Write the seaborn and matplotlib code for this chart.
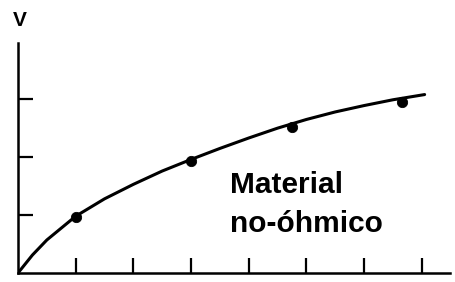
import matplotlib
matplotlib.use("Agg")
import matplotlib.pyplot as plt
import seaborn as sns
import pandas as pd

# curve (current vs voltage, arbitrary units)
curve_x = [0, 0.25, 0.5, 1.0, 1.5, 2.0, 2.5, 3.0, 3.5, 4.0, 4.5, 5.0, 5.5, 6.0, 6.5, 7.05]
curve_y = [0, 0.31, 0.57, 0.98, 1.28, 1.53, 1.76, 1.96, 2.15, 2.33, 2.50, 2.65, 2.78, 2.89, 2.99, 3.08]

# measured points
point_x = [1.0, 3.0, 4.75, 6.65]
point_y = [0.97, 1.93, 2.52, 2.96]

x_ticks = [1, 2, 3, 4, 5, 6, 7]
y_ticks = [1, 2, 3]

sns.set_theme(style="white")
plt.rcParams['font.family'] = ['Liberation Sans', 'DejaVu Sans']

curve = pd.DataFrame({'x': curve_x, 'y': curve_y})
points = pd.DataFrame({'x': point_x, 'y': point_y})

fig = plt.figure(figsize=(4.56, 2.82), dpi=100)
ax = fig.add_axes([18 / 456, 9 / 282, 432 / 456, 230 / 282])

sns.lineplot(data=curve, x='x', y='y', color='black', linewidth=2.2, ax=ax)
sns.scatterplot(data=points, x='x', y='y', color='black', s=55, marker='o',
                edgecolor='black', ax=ax, zorder=3)

ax.set_xlim(0, 7.49)
ax.set_ylim(0, 3.97)
ax.set_xticks(x_ticks)
ax.set_yticks(y_ticks)
ax.set_xticklabels([])
ax.set_yticklabels([])
ax.set_xlabel('')
ax.set_ylabel('')
ax.tick_params(direction='in', length=10.5, width=1.6, color='black',
               bottom=True, left=True)

for side in ['top', 'right']:
    ax.spines[side].set_visible(False)
for side in ['left', 'bottom']:
    ax.spines[side].set_color('black')
    ax.spines[side].set_linewidth(1.8)

ax.text(3.67, 1.38, 'Material', fontsize=21.5, fontweight='bold', color='black',
        va='baseline', ha='left')
ax.text(3.67, 0.71, 'no-óhmico', fontsize=21.5, fontweight='bold', color='black',
        va='baseline', ha='left')

fig.text(20 / 456, 1 - 21 / 282, 'V', fontsize=15, fontweight='bold', color='black',
         ha='center', va='center')

fig.savefig('out.png', dpi=100)
